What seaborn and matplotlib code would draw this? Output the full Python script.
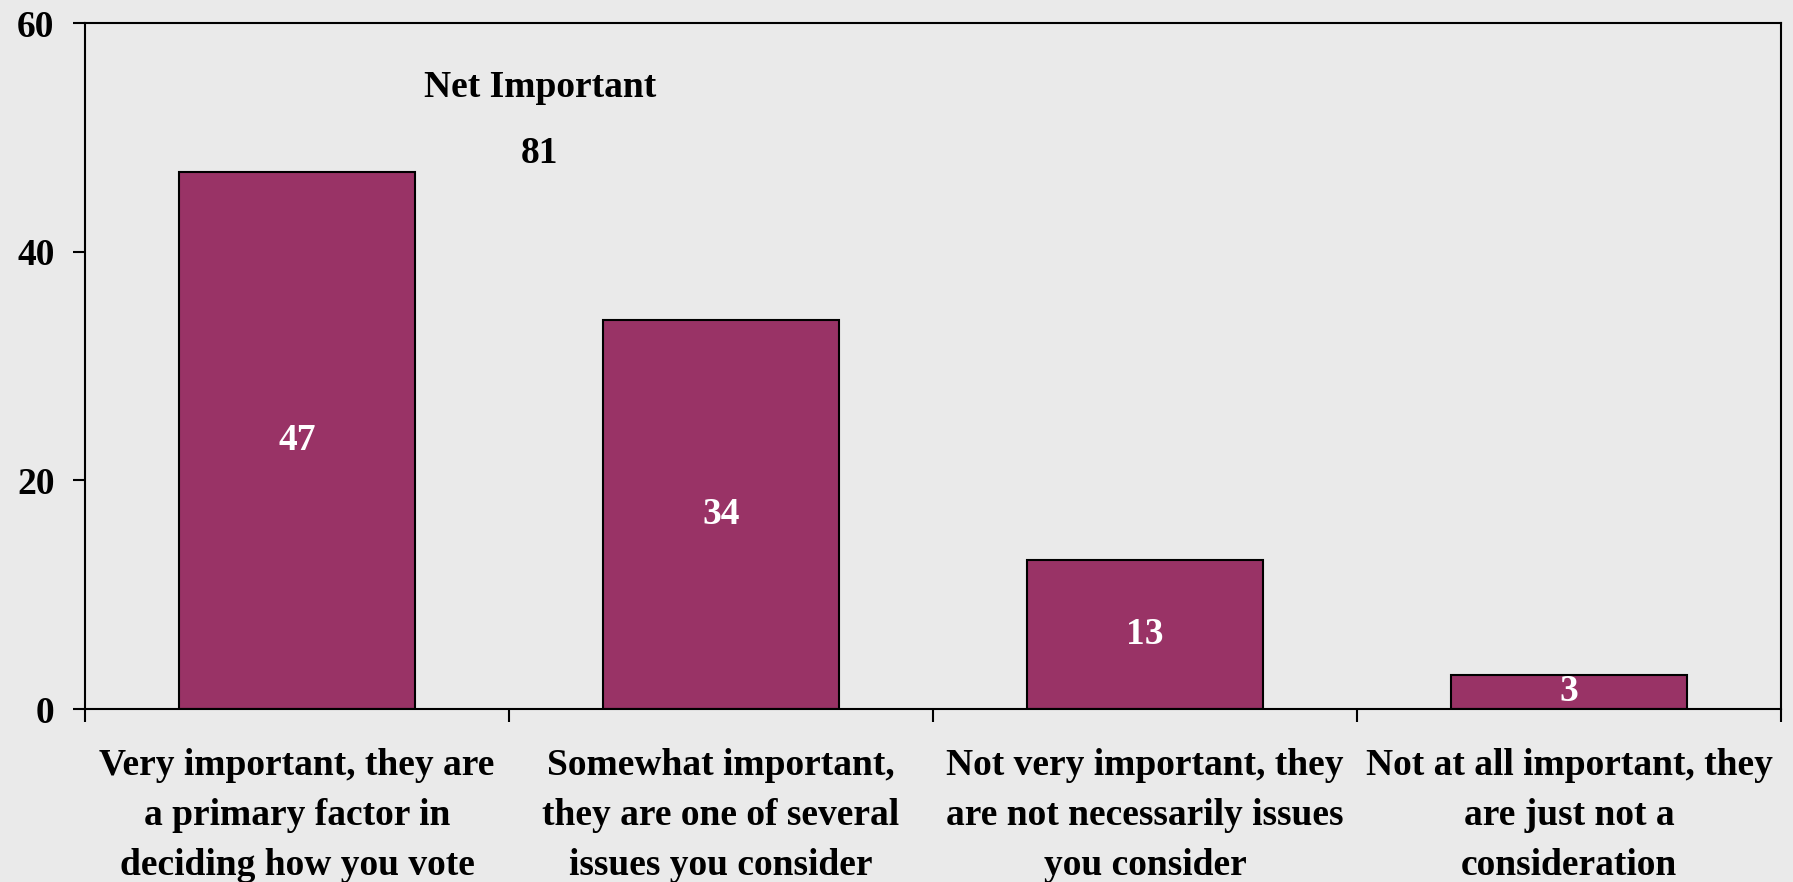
import pandas as pd
import matplotlib
matplotlib.use("Agg")
import matplotlib.pyplot as plt
import seaborn as sns

# data
categories = [
    "Very important, they are\na primary factor in\ndeciding how you vote",
    "Somewhat important,\nthey are one of several\nissues you consider",
    "Not very important, they\nare not necessarily issues\nyou consider",
    "Not at all important, they\nare just not a\nconsideration",
]
values = [47, 34, 13, 3]
net_label = "Net Important"
net_value = 81
y_ticks = [0, 20, 40, 60]

bg = "#EAEAEA"
bar_color = "#993366"
fs = 27

sns.set_style("white", {"axes.facecolor": bg, "figure.facecolor": bg,
                        "text.color": "black", "xtick.color": "black",
                        "ytick.color": "black", "axes.edgecolor": "black",
                        "xtick.bottom": True, "ytick.left": True})
plt.rcParams["font.family"] = ["Liberation Serif", "DejaVu Serif"]
plt.rcParams["font.weight"] = "bold"

df = pd.DataFrame({"cat": categories, "val": values})

fig = plt.figure(figsize=(17.93, 8.82), dpi=100)
ax = fig.add_axes([0.0474, 0.1961, 0.9459, 0.7778])

sns.barplot(data=df, x="cat", y="val", color=bar_color, saturation=1,
            width=0.556, edgecolor="black", linewidth=1.5, ax=ax)

# value labels in the middle of each bar
for i, v in enumerate(values):
    ax.text(i, v / 2, str(v), ha="center", va="center", color="white",
            fontsize=fs, fontweight="bold")

# net important annotation
ax.text(0.573, 54.4, net_label, ha="center", va="center", fontsize=fs, fontweight="bold", color="black")
ax.text(0.573, 48.6, str(net_value), ha="center", va="center", fontsize=fs, fontweight="bold", color="black")

ax.set_xlim(-0.5, len(categories) - 0.5)
ax.set_ylim(0, 60)
ax.set_yticks(y_ticks)
ax.set_yticklabels([str(t) for t in y_ticks], fontsize=fs, fontweight="bold", color="black")

# category labels centred, ticks at category boundaries
ax.set_xticks(range(len(categories)))
ax.set_xticklabels(categories, fontsize=fs, fontweight="bold", linespacing=1.55, color="black")
ax.tick_params(axis="x", which="major", bottom=True, length=0, pad=28)
ax.set_xticks([i - 0.5 for i in range(len(categories) + 1)], minor=True)
ax.tick_params(axis="x", which="minor", bottom=True, length=9, width=1.5, color="black", direction="out")
ax.tick_params(axis="y", left=True, length=9, width=1.5, color="black", direction="out", pad=13)

ax.set_xlabel("")
ax.set_ylabel("")
for s in ax.spines.values():
    s.set_visible(True)
    s.set_color("black")
    s.set_linewidth(1.5)

fig.savefig("out.png", dpi=100, facecolor=bg)
